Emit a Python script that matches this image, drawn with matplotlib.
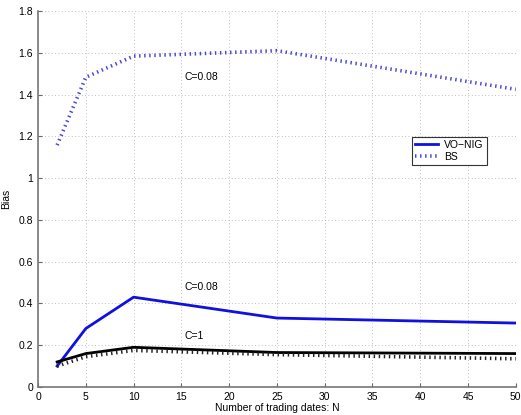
import matplotlib
matplotlib.use("Agg")
import matplotlib.pyplot as plt

plt.rcParams['font.family'] = ['Liberation Sans', 'DejaVu Sans']

# number of trading dates
N = [2, 5, 10, 25, 50]

# C=0.08
vonig_c008 = [0.10, 0.28, 0.43, 0.33, 0.306]
bs_c008 = [1.158, 1.483, 1.584, 1.61, 1.425]

# C=1
vonig_c1 = [0.12, 0.16, 0.19, 0.165, 0.16]
bs_c1 = [0.10, 0.145, 0.175, 0.155, 0.135]

fig = plt.figure(figsize=(5.21, 4.15), dpi=100)
ax = fig.add_axes([0.073, 0.0675, 0.917, 0.906])

ax.plot(N, vonig_c008, color='#1010e0', lw=2.0, label='VO\u2212NIG')
ax.plot(N, bs_c008, color='#4848d8', lw=2.6, linestyle=(0, (0.4, 1.0)), label='BS')
ax.plot(N, vonig_c1, color='black', lw=2.0)
ax.plot(N, bs_c1, color='#222222', lw=2.6, linestyle=(0, (0.4, 1.0)))

ax.text(15.3, 1.47, 'C=0.08', fontsize=7.5)
ax.text(15.3, 0.464, 'C=0.08', fontsize=7.5)
ax.text(15.3, 0.232, 'C=1', fontsize=7.5)

ax.set_xlim(0, 50)
ax.set_ylim(0, 1.8)
ax.set_xticks(range(0, 51, 5))
ax.set_yticks([0, 0.2, 0.4, 0.6, 0.8, 1, 1.2, 1.4, 1.6, 1.8])
ax.set_yticklabels(['0', '0.2', '0.4', '0.6', '0.8', '1', '1.2', '1.4', '1.6', '1.8'])
ax.tick_params(direction='in', labelsize=7.5, length=3, color='#666666')
ax.grid(True, linestyle=(0, (1, 3)), color='#aaaaaa', lw=0.6)
for s in ['top', 'right']:
    ax.spines[s].set_visible(False)
for s in ['left', 'bottom']:
    ax.spines[s].set_color('#777777')
    ax.spines[s].set_linewidth(1.2)

ax.set_xlabel('Number of trading dates: N', fontsize=7.5, labelpad=1)
ax.set_ylabel('Bias', fontsize=7.5, labelpad=5)

leg = ax.legend(loc='upper left', bbox_to_anchor=(0.772, 0.68), fontsize=7.5,
                fancybox=False, framealpha=1, edgecolor='#333333',
                handlelength=2.2, borderpad=0.3, labelspacing=0.2, handletextpad=0.6)
leg.get_frame().set_linewidth(0.8)

fig.savefig('out.png', dpi=100)
